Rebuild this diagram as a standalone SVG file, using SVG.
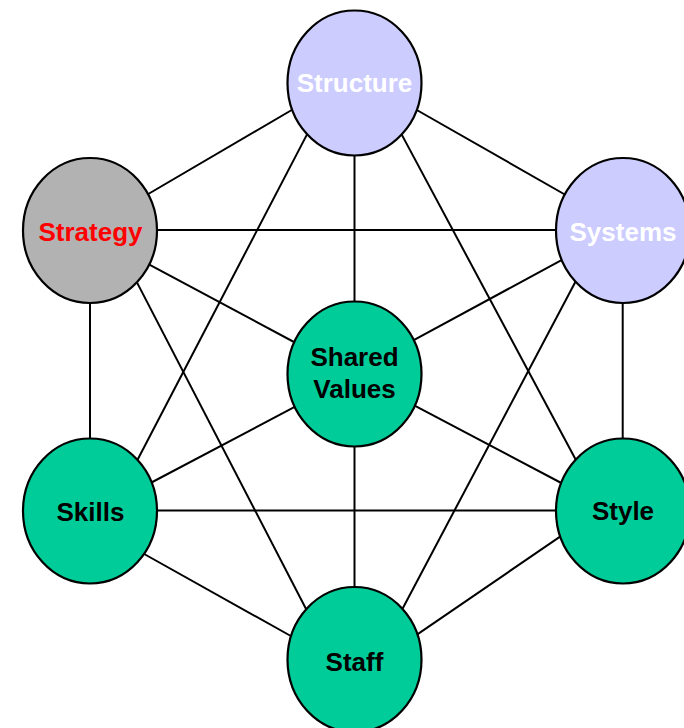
<svg xmlns="http://www.w3.org/2000/svg" width="684" height="728" viewBox="0 0 684 728">
  <style>
    .edge { stroke: #000; stroke-width: 2; fill: none; }
    .node ellipse { stroke: #000; stroke-width: 2.2; }
    .node text { font-family: "Liberation Sans", Arial, sans-serif; font-weight: bold; font-size: 26px; text-anchor: middle; }
    .blue ellipse { fill: #CCCCFF; }
    .blue text { fill: #FFFFFF; }
    .grey ellipse { fill: #B2B2B2; }
    .grey text { fill: #FF0000; }
    .green ellipse { fill: #00CC99; }
    .green text { fill: #000000; }
  </style>
  <rect width="684" height="728" fill="#FFFFFF"/>

  <!-- links between the seven elements; ends tuck under the ellipses -->
  <g id="connectors">
    <line class="edge" x1="296" y1="107.5" x2="144" y2="196.5"/>
    <line class="edge" x1="412.4" y1="107.5" x2="568.3" y2="196.5"/>
    <line class="edge" x1="354.5" y1="150" x2="354.5" y2="307"/>
    <line class="edge" x1="309" y1="130.6" x2="136" y2="462.7"/>
    <line class="edge" x1="399.6" y1="130.6" x2="577.4" y2="462.7"/>
    <line class="edge" x1="152" y1="230" x2="561" y2="230"/>
    <line class="edge" x1="145.6" y1="262.6" x2="297.7" y2="344"/>
    <line class="edge" x1="90" y1="298" x2="90" y2="443"/>
    <line class="edge" x1="135" y1="278.6" x2="308" y2="612.7"/>
    <line class="edge" x1="566.1" y1="257.6" x2="409.6" y2="342.4"/>
    <line class="edge" x1="622.7" y1="298" x2="622.7" y2="443"/>
    <line class="edge" x1="577.3" y1="278.3" x2="400.4" y2="612.7"/>
    <line class="edge" x1="299.4" y1="404.4" x2="148.6" y2="484"/>
    <line class="edge" x1="412.3" y1="404.4" x2="565.1" y2="485"/>
    <line class="edge" x1="354.5" y1="442" x2="354.5" y2="592"/>
    <line class="edge" x1="152" y1="510.5" x2="561" y2="510.5"/>
    <line class="edge" x1="140.6" y1="552" x2="294.4" y2="638"/>
    <line class="edge" x1="564.1" y1="533.9" x2="413.7" y2="636.8"/>
  </g>

  <g id="structure" class="node blue">
    <ellipse cx="354.5" cy="83" rx="67" ry="72.5"/>
    <text x="354.5" y="92">Structure</text>
  </g>
  <g id="strategy" class="node grey">
    <ellipse cx="90" cy="230.5" rx="67" ry="72.5"/>
    <text x="90.5" y="240.5">Strategy</text>
  </g>
  <g id="systems" class="node blue">
    <ellipse cx="623" cy="230.5" rx="67" ry="72.5"/>
    <text x="623" y="240.5">Systems</text>
  </g>
  <g id="shared-values" class="node green">
    <ellipse cx="354.5" cy="374" rx="67" ry="72.5"/>
    <text x="354.5" y="366">Shared</text>
    <text x="354.5" y="398">Values</text>
  </g>
  <g id="skills" class="node green">
    <ellipse cx="90" cy="511" rx="67" ry="72.5"/>
    <text x="90.5" y="520.5">Skills</text>
  </g>
  <g id="style" class="node green">
    <ellipse cx="623" cy="511" rx="67" ry="72.5"/>
    <text x="623" y="520">Style</text>
  </g>
  <g id="staff" class="node green">
    <ellipse cx="354.5" cy="659.5" rx="67" ry="72.5"/>
    <text x="354.5" y="670.5">Staff</text>
  </g>
</svg>
